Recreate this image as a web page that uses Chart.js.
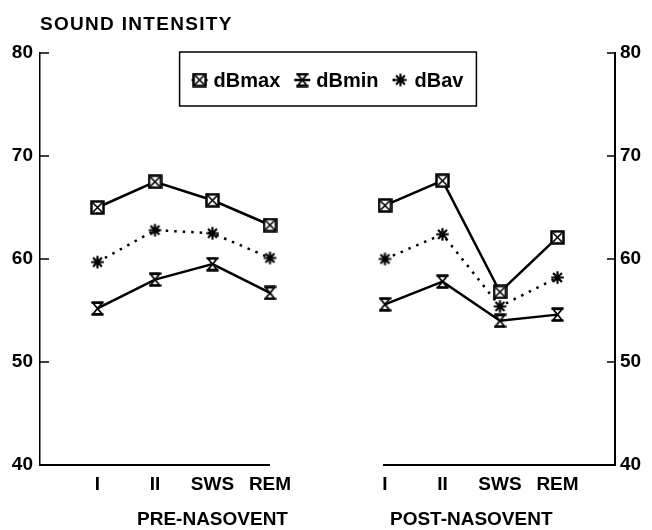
<!DOCTYPE html>
<html>
<head>
<meta charset="utf-8">
<script src="https://cdn.jsdelivr.net/npm/chart.js@4.4.1/dist/chart.umd.min.js"></script>
<style>
  html, body { margin: 0; padding: 0; background: #fff; }
  #wrap { width: 652px; height: 530px; }
</style>
</head>
<body>
<div id="wrap"><canvas id="chart"></canvas></div>
<script>
// Sleep stages, same on both halves of the plot
const stages = ['I', 'II', 'SWS', 'REM'];
const groupNames = ['PRE-NASOVENT', 'POST-NASOVENT'];
const seriesNames = ['dBmax', 'dBmin', 'dBav'];

// Sound intensity (dB)
const preMax = [65.0, 67.5, 65.7, 63.3];
const preMin = [55.2, 58.0, 59.5, 56.7];
const preAv = [59.7, 62.8, 62.5, 60.1];
const postMax = [65.2, 67.6, 56.8, 62.1];
const postMin = [55.6, 57.8, 54.0, 54.6];
const postAv = [60.0, 62.4, 55.4, 58.2];

const yTicks = [40, 50, 60, 70, 80];

const FONT = '"Liberation Sans", Arial, sans-serif';

// one empty slot at each axis and one between the two halves
const labels = ['', ...stages, '', ...stages, ''];
const join = (pre, post) => [null, ...pre, null, ...post, null];

// Marker images
function makeCanvas(w, h, draw) {
  const c = document.createElement('canvas');
  c.width = w;
  c.height = h;
  const g = c.getContext('2d');
  g.strokeStyle = '#000';
  g.fillStyle = '#fff';
  draw(g);
  return c;
}

const boxMarker = makeCanvas(15, 15, (g) => {
  g.fillRect(1, 1, 13, 13);
  g.lineWidth = 2.5;
  g.strokeRect(1.5, 1.5, 12, 12);
  g.lineWidth = 1.6;
  g.beginPath();
  g.moveTo(3, 3); g.lineTo(12, 12);
  g.moveTo(12, 3); g.lineTo(3, 12);
  g.stroke();
});

const hourglassMarker = makeCanvas(13, 15, (g) => {
  g.lineWidth = 1.8;
  g.beginPath();
  g.moveTo(2, 2); g.lineTo(11, 2); g.lineTo(6.5, 7.5); g.closePath();
  g.moveTo(2, 13); g.lineTo(11, 13); g.lineTo(6.5, 7.5); g.closePath();
  g.fill();
  g.stroke();
  g.lineWidth = 2.4;
  g.beginPath();
  g.moveTo(0.5, 1.5); g.lineTo(12.5, 1.5);
  g.moveTo(0.5, 13.5); g.lineTo(12.5, 13.5);
  g.stroke();
});

const starMarker = makeCanvas(15, 15, (g) => {
  g.lineWidth = 2.2;
  g.beginPath();
  for (let k = 0; k < 4; k++) {
    const ang = (k * Math.PI) / 4;
    const dx = Math.cos(ang) * 6.3, dy = Math.sin(ang) * 6.3;
    g.moveTo(7.5 - dx, 7.5 - dy);
    g.lineTo(7.5 + dx, 7.5 + dy);
  }
  g.stroke();
});

const markers = [boxMarker, hourglassMarker, starMarker];
const dashes = [[], [], [2.5, 6]];

// Extra drawing: axis baselines, inward ticks, titles and boxed legend
const decor = {
  id: 'decor',
  afterDraw(chart) {
    const { ctx, chartArea: a, scales } = chart;
    const x = scales.x, y = scales.y;
    ctx.save();
    ctx.strokeStyle = '#000';
    ctx.fillStyle = '#000';

    // broken x baseline, one piece per half
    ctx.lineWidth = 2;
    ctx.beginPath();
    ctx.moveTo(x.getPixelForValue(0), a.bottom);
    ctx.lineTo(x.getPixelForValue(4), a.bottom);
    ctx.moveTo(x.getPixelForValue(6) - 2, a.bottom);
    ctx.lineTo(x.getPixelForValue(10), a.bottom);
    ctx.stroke();

    // ticks pointing into the plot
    ctx.lineWidth = 1.5;
    ctx.beginPath();
    yTicks.slice(1).forEach((v) => {
      const py = y.getPixelForValue(v);
      ctx.moveTo(a.left, py); ctx.lineTo(a.left + 9, py);
      ctx.moveTo(a.right - 8, py); ctx.lineTo(a.right, py);
    });
    ctx.stroke();

    // axis title (the scan's lettering is wide) and group names
    ctx.font = 'bold 19px ' + FONT;
    ctx.textBaseline = 'middle';
    ctx.textAlign = 'left';
    ctx.letterSpacing = '1.3px';
    ctx.fillText('SOUND INTENSITY', a.left, 25);
    ctx.letterSpacing = '0px';
    ctx.textAlign = 'center';
    ctx.fillText(groupNames[0], x.getPixelForValue(3), 520);
    ctx.fillText(groupNames[1], (x.getPixelForValue(7) + x.getPixelForValue(8)) / 2, 520);

    // legend with a frame
    ctx.font = 'bold 20px ' + FONT;
    const mw = 16, gap = 6, itemGap = 14;
    const widths = seriesNames.map((n) => mw + gap + ctx.measureText(n).width);
    const total = widths.reduce((s, w) => s + w, 0) + itemGap * (widths.length - 1);
    let lx = (a.left + a.right) / 2 - total / 2;
    const ly = a.top + 27;
    ctx.lineWidth = 1.5;
    ctx.strokeRect(lx - 12, a.top - 1, total + 25, 54);
    ctx.textAlign = 'left';
    seriesNames.forEach((n, i) => {
      ctx.save();
      ctx.lineWidth = 2.5;
      ctx.setLineDash(dashes[i]);
      ctx.beginPath();
      ctx.moveTo(lx, ly); ctx.lineTo(lx + mw, ly);
      ctx.stroke();
      ctx.restore();
      const m = markers[i];
      ctx.drawImage(m, lx + mw / 2 - m.width / 2, ly - m.height / 2);
      ctx.fillText(n, lx + mw + gap, ly + 1);
      lx += widths[i] + itemGap;
    });
    ctx.restore();
  },
};

const series = [
  [preMax, postMax],
  [preMin, postMin],
  [preAv, postAv],
];

const datasets = series.map(([pre, post], i) => ({
  label: seriesNames[i],
  data: join(pre, post),
  borderColor: '#000',
  borderWidth: 2.5,
  borderDash: dashes[i],
  pointStyle: markers[i],
  pointRadius: 7,
  tension: 0,
  spanGaps: false,
}));

const yAxis = (position, width, pad, borderWidth) => ({
  type: 'linear',
  position: position,
  min: 40,
  max: 80,
  afterBuildTicks: (s) => { s.ticks = yTicks.map((v) => ({ value: v })); },
  afterFit: (s) => { s.width = width; },
  grid: { display: false, drawTicks: false },
  border: { display: true, color: '#000', width: borderWidth },
  ticks: {
    color: '#000',
    padding: pad,
    font: { family: FONT, size: 19, weight: 'bold' },
  },
});

new Chart(document.getElementById('chart'), {
  type: 'line',
  data: { labels: labels, datasets: datasets },
  options: {
    responsive: true,
    maintainAspectRatio: false,
    animation: false,
    layout: { padding: { top: 53, left: 0, right: 0, bottom: 0 } },
    plugins: { legend: { display: false }, tooltip: { enabled: false } },
    scales: {
      x: {
        type: 'category',
        offset: false,
        afterFit: (s) => { s.height = 65; },
        grid: { display: false, drawTicks: false },
        border: { display: false },
        ticks: {
          color: '#000',
          padding: 8,
          autoSkip: false,
          maxRotation: 0,
          font: { family: FONT, size: 19, weight: 'bold' },
        },
      },
      y: yAxis('left', 40, 7, 1.5),
      y2: yAxis('right', 37, 5, 2),
    },
  },
  plugins: [decor],
});
</script>
</body>
</html>
